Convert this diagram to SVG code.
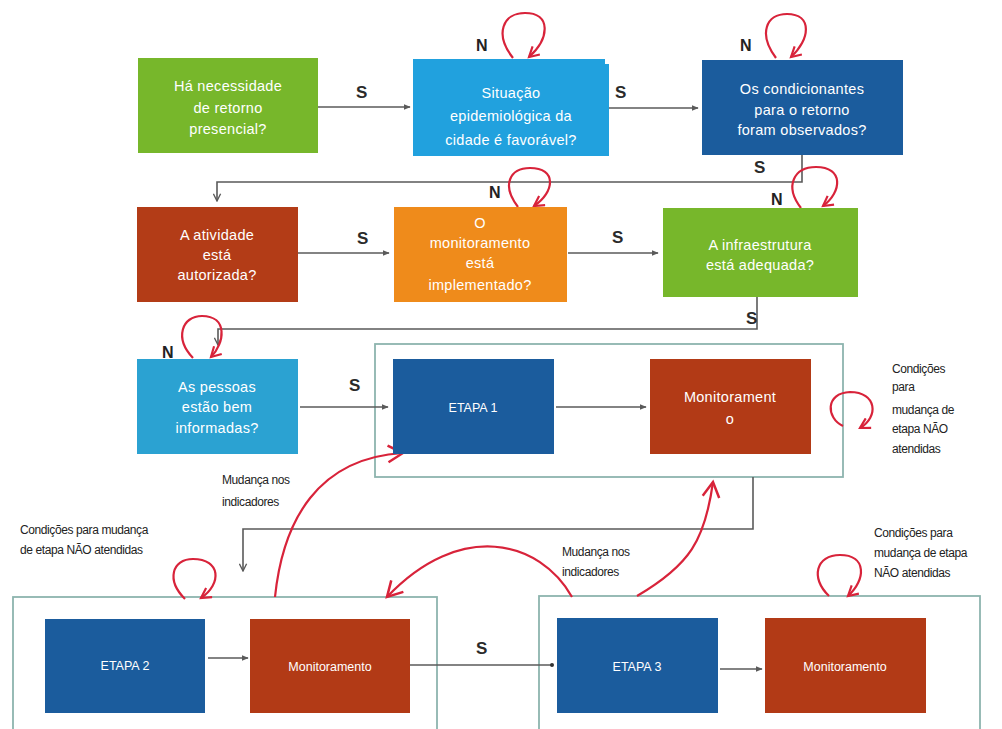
<svg xmlns="http://www.w3.org/2000/svg" width="1002" height="729" viewBox="0 0 1002 729">
<defs>
<style>
.bt{font-family:"Liberation Sans",Arial,sans-serif;font-size:14.5px;fill:#fff;text-anchor:middle;letter-spacing:0.3px}
.bs{font-family:"Liberation Sans",Arial,sans-serif;font-size:12.5px;fill:#fff;text-anchor:middle}
.lab{font-family:"Liberation Sans",Arial,sans-serif;font-size:17px;font-weight:bold;fill:#2a2a2a}
.nl{font-family:"Liberation Sans",Arial,sans-serif;font-size:16px;font-weight:bold;fill:#222}
.note{font-family:"Liberation Sans",Arial,sans-serif;font-size:12px;fill:#222;letter-spacing:-0.4px}
.con{fill:none;stroke:#5a5a5a;stroke-width:1.6}
.red{fill:none;stroke:#d8233a;stroke-width:2.2}
.frame{fill:none;stroke:#8db4ae;stroke-width:1.8}
</style>
<marker id="ga" viewBox="0 0 10 10" refX="9" refY="5" markerWidth="7" markerHeight="7" orient="auto" markerUnits="userSpaceOnUse">
<path d="M0,1 L10,5 L0,9 z" fill="#5a5a5a"/>
</marker>
<marker id="gd" viewBox="0 0 10 10" refX="5" refY="5" markerWidth="5" markerHeight="5" orient="auto" markerUnits="userSpaceOnUse">
<circle cx="5" cy="5" r="4" fill="#333"/>
</marker>
<marker id="gv" viewBox="0 0 10 10" refX="9" refY="5" markerWidth="9" markerHeight="9" orient="auto" markerUnits="userSpaceOnUse">
<path d="M1,1 L9,5 L1,9" fill="none" stroke="#5a5a5a" stroke-width="1.5"/>
</marker>
<marker id="ra" viewBox="0 0 12 12" refX="10" refY="6" markerWidth="13" markerHeight="13" orient="auto" markerUnits="userSpaceOnUse">
<path d="M1,1 L10,6 L1,11" fill="none" stroke="#d8233a" stroke-width="2"/>
</marker>
<marker id="rb" viewBox="0 0 12 12" refX="10" refY="6" markerWidth="20" markerHeight="20" orient="auto" markerUnits="userSpaceOnUse">
<path d="M1,1 L10,6 L1,11" fill="none" stroke="#d8233a" stroke-width="1.5"/>
</marker>
</defs>
<rect width="1002" height="729" fill="#fff"/>

<g id="frames">
<rect class="frame" x="375" y="344" width="468" height="133"/>
<rect class="frame" x="13" y="597" width="424" height="150"/>
<rect class="frame" x="539" y="596" width="441" height="150"/>
</g>

<g id="connectors">
<line class="con" x1="318" y1="107" x2="410" y2="107" marker-end="url(#ga)"/>
<line class="con" x1="609" y1="108" x2="698" y2="108" marker-end="url(#ga)"/>
<path class="con" d="M802,155 V182 H217 V201" marker-end="url(#gv)"/>
<line class="con" x1="298" y1="253" x2="389" y2="253" marker-end="url(#ga)"/>
<line class="con" x1="568" y1="253" x2="658" y2="253" marker-end="url(#ga)"/>
<path class="con" d="M757,297 V329 H218 V345" marker-end="url(#gv)"/>
<line class="con" x1="300" y1="407" x2="388" y2="407" marker-end="url(#ga)"/>
<line class="con" x1="556" y1="407" x2="646" y2="407" marker-end="url(#ga)"/>
<path class="con" d="M753,477 V529 H243 V571" marker-end="url(#gv)"/>
<line class="con" x1="208" y1="658" x2="248" y2="658" marker-end="url(#ga)"/>
<line class="con" x1="410" y1="665" x2="552" y2="665" marker-end="url(#gd)"/>
<line class="con" x1="720" y1="669" x2="762" y2="669" marker-end="url(#ga)"/>

<path class="red" d="M513,58 C494,34 503,13 525,13 C551,13 550,38 529,57" marker-end="url(#ra)"/>
<path class="red" d="M776,58 C758,34 766,14 787,14 C813,14 810,40 791,57" marker-end="url(#ra)"/>
<path class="red" d="M518,207 C501,185 510,168 530,168 C557,168 555,192 534,206" marker-end="url(#ra)"/>
<path class="red" d="M801,208 C784,186 794,167 816,167 C844,167 842,192 823,206" marker-end="url(#ra)"/>
<path class="red" d="M193,358 C174,338 182,316 202,316 C228,316 225,343 211,357" marker-end="url(#ra)"/>
<path class="red" d="M843,426 C826,418 825,393 850,392 C877,392 879,417 860,428" marker-end="url(#ra)"/>
<path class="red" d="M185,599 C166,580 172,559 193,559 C221,559 222,584 201,598" marker-end="url(#ra)"/>
<path class="red" d="M829,596 C810,578 816,555 840,555 C867,555 866,580 848,596" marker-end="url(#ra)"/>
<path class="red" d="M275,597 C283,520 318,458 403,453" marker-end="url(#rb)"/>
<path class="red" d="M572,597 C540,540 460,520 387,597" marker-end="url(#rb)"/>
<path class="red" d="M637,596 C690,565 705,540 713,482" marker-end="url(#rb)"/>
</g>

<g id="labels">
<text class="lab" x="356" y="98">S</text>
<text class="lab" x="615" y="98">S</text>
<text class="lab" x="754" y="173">S</text>
<text class="lab" x="357" y="244">S</text>
<text class="lab" x="612" y="243">S</text>
<text class="lab" x="746" y="324">S</text>
<text class="lab" x="349" y="391">S</text>
<text class="lab" x="476" y="654">S</text>
<text class="nl" x="476" y="51">N</text>
<text class="nl" x="740" y="51">N</text>
<text class="nl" x="489" y="198">N</text>
<text class="nl" x="771" y="205">N</text>
<text class="nl" x="162" y="358">N</text>
</g>

<g id="n1"><rect x="138" y="58" width="180" height="95" fill="#77b72b"/>
<text class="bt" x="228" y="91">Há necessidade</text><text class="bt" x="228" y="113">de retorno</text><text class="bt" x="228" y="134">presencial?</text></g>

<g id="n2"><rect x="413" y="64" width="196" height="92" fill="#21a1de"/><rect x="413" y="59" width="192" height="97" fill="#21a1de"/>
<text class="bt" x="511" y="98">Situação</text><text class="bt" x="511" y="121">epidemiológica da</text><text class="bt" x="511" y="145">cidade é favorável?</text></g>

<g id="n3"><rect x="702" y="60" width="201" height="95" fill="#1b5c9d"/>
<text class="bt" x="802" y="94">Os condicionantes</text><text class="bt" x="802" y="115">para o retorno</text><text class="bt" x="802" y="135">foram observados?</text></g>

<g id="n4"><rect x="137" y="207" width="161" height="95" fill="#b33c17"/>
<text class="bt" x="217" y="240">A atividade</text><text class="bt" x="217" y="260">está</text><text class="bt" x="217" y="280">autorizada?</text></g>

<g id="n5"><rect x="394" y="207" width="173" height="95" fill="#ef8b1b"/>
<text class="bt" x="480" y="228">O</text><text class="bt" x="480" y="248">monitoramento</text><text class="bt" x="480" y="268">está</text><text class="bt" x="480" y="290">implementado?</text></g>

<g id="n6"><rect x="663" y="208" width="195" height="89" fill="#77b72b"/>
<text class="bt" x="760" y="250">A infraestrutura</text><text class="bt" x="760" y="270">está adequada?</text></g>

<g id="n7"><rect x="137" y="359" width="161" height="95" fill="#2ba2d2"/>
<text class="bt" x="217" y="392">As pessoas</text><text class="bt" x="217" y="412">estão bem</text><text class="bt" x="217" y="433">informadas?</text></g>

<g id="n8"><rect x="393" y="359" width="161" height="95" fill="#1b5c9d"/>
<text class="bs" x="473" y="412">ETAPA 1</text></g>

<g id="n9"><rect x="650" y="359" width="161" height="95" fill="#b23a16"/>
<text class="bt" x="730" y="402">Monitorament</text><text class="bt" x="730" y="424">o</text></g>

<g id="n10"><rect x="45" y="619" width="160" height="94" fill="#1b5c9d"/>
<text class="bs" x="125" y="670">ETAPA 2</text></g>

<g id="n11"><rect x="250" y="619" width="160" height="94" fill="#b23a16"/>
<text class="bs" x="330" y="671">Monitoramento</text></g>

<g id="n12"><rect x="557" y="618" width="161" height="95" fill="#1b5c9d"/>
<text class="bs" x="637" y="671">ETAPA 3</text></g>

<g id="n13"><rect x="765" y="618" width="161" height="95" fill="#b23a16"/>
<text class="bs" x="845" y="671">Monitoramento</text></g>

<g id="notes">
<text class="note" x="892" y="373">Condições</text>
<text class="note" x="892" y="391">para</text>
<text class="note" x="892" y="414">mudança de</text>
<text class="note" x="892" y="433">etapa  NÃO</text>
<text class="note" x="892" y="453">atendidas</text>
<text class="note" x="222" y="484">Mudança nos</text>
<text class="note" x="222" y="506">indicadores</text>
<text class="note" x="20" y="534">Condições para mudança</text>
<text class="note" x="20" y="554">de etapa  NÃO atendidas</text>
<text class="note" x="562" y="556">Mudança nos</text>
<text class="note" x="562" y="576">indicadores</text>
<text class="note" x="874" y="537">Condições para</text>
<text class="note" x="874" y="557">mudança de etapa</text>
<text class="note" x="874" y="577">NÃO atendidas</text>
</g>
</svg>
